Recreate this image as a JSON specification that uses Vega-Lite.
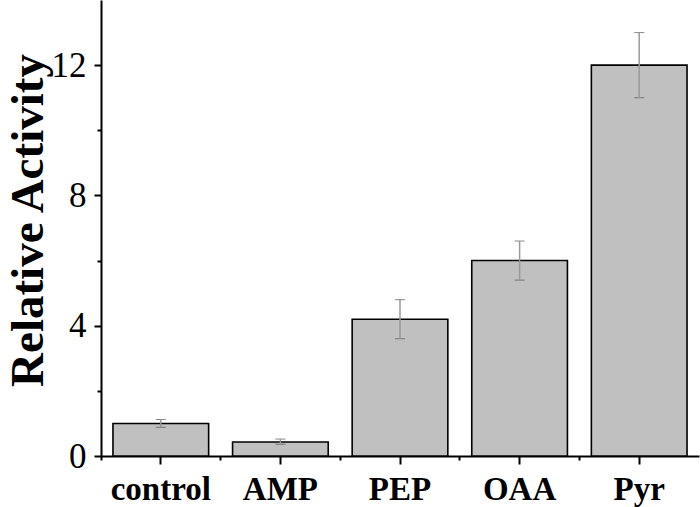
{
  "$schema": "https://vega.github.io/schema/vega-lite/v6.json",
  "width": 598,
  "height": 456,
  "autosize": "none",
  "padding": {"left": 101, "top": 0, "right": 1, "bottom": 51},
  "config": {"view": {"stroke": null}, "font": "Liberation Serif"},
  "data": {
    "values": [
      {"group": "control", "value": 1.0, "lo": 0.88, "hi": 1.12},
      {"group": "AMP", "value": 0.43, "lo": 0.36, "hi": 0.52},
      {"group": "PEP", "value": 4.2, "lo": 3.6, "hi": 4.8},
      {"group": "OAA", "value": 6.0, "lo": 5.4, "hi": 6.6},
      {"group": "Pyr", "value": 12.0, "lo": 11.0, "hi": 13.0}
    ]
  },
  "layer": [
    {
      "mark": {"type": "bar", "fill": "#c0c0c0", "stroke": "#000000", "strokeWidth": 1.6},
      "encoding": {
        "x": {
          "field": "group", "type": "nominal", "sort": null,
          "scale": {"paddingInner": 0.2, "paddingOuter": 0.1},
          "axis": {
            "title": null, "orient": "bottom", "labelAngle": 0,
            "domainColor": "#000", "domainWidth": 2,
            "tickColor": "#000", "tickWidth": 2, "tickSize": 8,
            "labelFont": "Liberation Serif", "labelFontSize": 33, "labelFontWeight": "bold",
            "labelColor": "#000", "labelBaseline": "alphabetic", "labelPadding": 35
          }
        },
        "y": {
          "field": "value", "type": "quantitative",
          "scale": {"domain": [0, 14], "nice": false, "zero": true},
          "axis": {
            "values": [0, 4, 8, 12], "grid": false, "orient": "left",
            "domainColor": "#000", "domainWidth": 2,
            "tickColor": "#000", "tickWidth": 2, "tickSize": 7,
            "labelFont": "Liberation Serif", "labelFontSize": 35, "labelColor": "#000",
            "labelPadding": 8,
            "title": "Relative Activity", "titleFont": "Liberation Serif",
            "titleFontSize": 47, "titleFontWeight": "bold", "titleColor": "#000",
            "titleAngle": -90, "titleBaseline": "alphabetic", "titleAlign": "center",
            "titleX": -59, "titleY": 220
          }
        }
      }
    },
    {
      "mark": {
        "type": "errorbar",
        "ticks": {"size": 10, "color": "#555555", "strokeWidth": 1.2},
        "rule": {"color": "#999999", "strokeWidth": 1.5}
      },
      "encoding": {
        "x": {"field": "group", "type": "nominal", "sort": null, "axis": null},
        "y": {"field": "lo", "type": "quantitative", "scale": {"domain": [0, 14], "nice": false}, "axis": null},
        "y2": {"field": "hi"}
      }
    },
    {
      "mark": {"type": "bar", "opacity": 0},
      "encoding": {
        "x": {
          "field": "group", "type": "nominal", "sort": null,
          "axis": {
            "title": null, "orient": "bottom", "labels": false, "domain": false,
            "bandPosition": -0.125, "tickColor": "#000", "tickWidth": 2, "tickSize": 4
          }
        },
        "y": {
          "field": "value", "type": "quantitative",
          "scale": {"domain": [0, 14], "nice": false},
          "axis": {
            "title": null, "orient": "left", "values": [2, 6, 10], "labels": false,
            "domain": false, "grid": false, "tickColor": "#000", "tickWidth": 2, "tickSize": 4
          }
        }
      }
    }
  ],
  "resolve": {"axis": {"x": "independent", "y": "independent"}}
}
